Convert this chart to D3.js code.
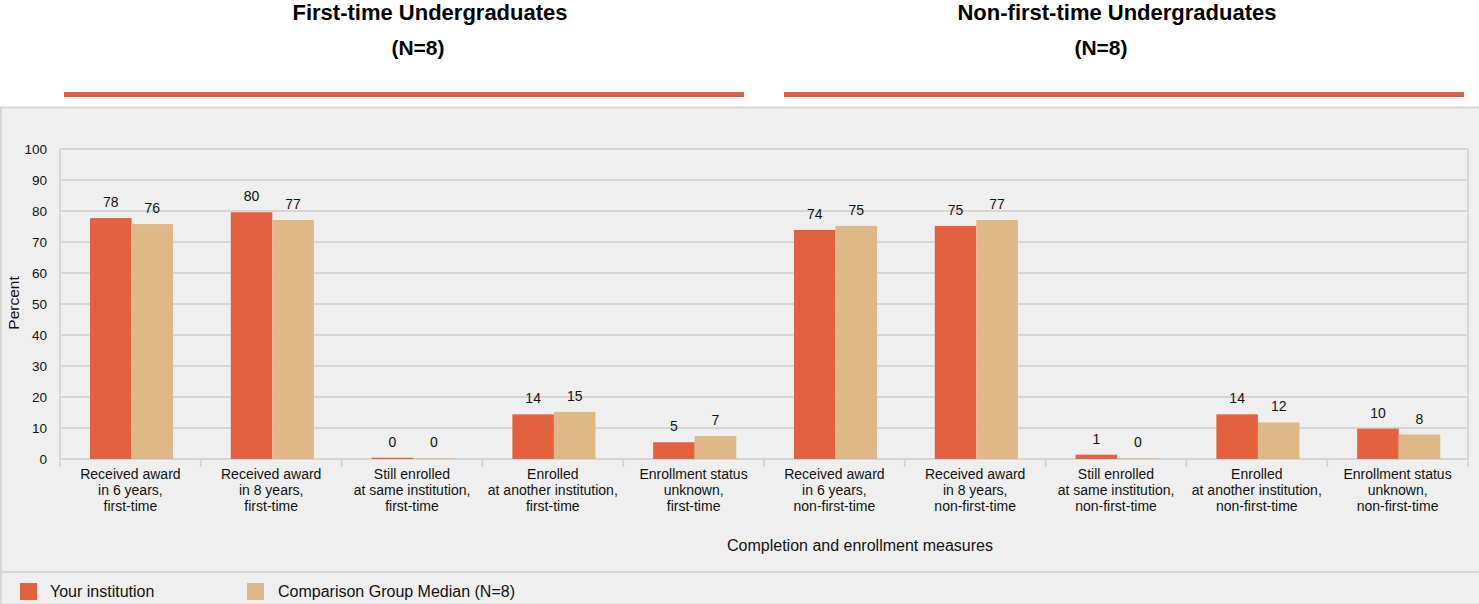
<!DOCTYPE html>
<html>
<head>
<meta charset="utf-8">
<script src="https://cdn.jsdelivr.net/npm/d3@7"></script>
<style>
  body { margin: 0; background: #fff; }
  svg { display: block; font-family: "Liberation Sans", Arial, sans-serif; }
</style>
</head>
<body>
<div id="chart"></div>
<script>
// categories (x axis), three-line labels
const categories = [
  ["Received award", "in 6 years,", "first-time"],
  ["Received award", "in 8 years,", "first-time"],
  ["Still enrolled", "at same institution,", "first-time"],
  ["Enrolled", "at another institution,", "first-time"],
  ["Enrollment status", "unknown,", "first-time"],
  ["Received award", "in 6 years,", "non-first-time"],
  ["Received award", "in 8 years,", "non-first-time"],
  ["Still enrolled", "at same institution,", "non-first-time"],
  ["Enrolled", "at another institution,", "non-first-time"],
  ["Enrollment status", "unknown,", "non-first-time"]
];
const seriesNames = ["Your institution", "Comparison Group Median (N=8)"];
const yourValues = [77.7, 79.6, 0.4, 14.4, 5.4, 73.9, 75.2, 1.4, 14.4, 9.8];
const medianValues = [75.8, 77.1, 0.3, 15.2, 7.4, 75.2, 77.1, 0.3, 11.8, 7.9];
const yTicks = [0, 10, 20, 30, 40, 50, 60, 70, 80, 90, 100];
const groupTitles = ["First-time Undergraduates", "Non-first-time Undergraduates"];
const groupSubtitles = ["(N=8)", "(N=8)"];

const colors = ["#e4613f", "#dfb887"];
const width = 1479, height = 604;
const margin = { top: 149, left: 60, bottom: 145, right: 11 };
const plotBottom = height - margin.bottom;

const svg = d3.select("#chart").append("svg")
  .attr("width", width)
  .attr("height", height);

// header titles and orange rules
const halves = [[64, 744], [784, 1464]];
const titleX = [430, 1117];
const subtitleX = [418, 1101];
halves.forEach((h, i) => {
  svg.append("text").attr("x", titleX[i]).attr("y", 20)
    .attr("text-anchor", "middle").attr("font-size", 22).attr("font-weight", "bold")
    .text(groupTitles[i]);
  svg.append("text").attr("x", subtitleX[i]).attr("y", 55)
    .attr("text-anchor", "middle").attr("font-size", 21).attr("font-weight", "bold")
    .text(groupSubtitles[i]);
  svg.append("rect").attr("x", h[0]).attr("y", 92)
    .attr("width", h[1] - h[0]).attr("height", 5).attr("fill", "#dc6242");
});

// grey panel
svg.append("rect").attr("x", 1).attr("y", 107.5)
  .attr("width", width).attr("height", height - 107)
  .attr("fill", "#efefef").attr("stroke", "#d6d6d6").attr("stroke-width", 2);
svg.append("line").attr("x1", 0).attr("x2", width).attr("y1", 572).attr("y2", 572)
  .attr("stroke", "#d6d6d6").attr("stroke-width", 2);

const x = d3.scaleBand()
  .domain(d3.range(categories.length))
  .range([margin.left, width - margin.right]);

const x1 = d3.scaleBand()
  .domain([0, 1])
  .range([x.bandwidth() * 0.213, x.bandwidth() * 0.803]);

const y = d3.scaleLinear()
  .domain([0, 100])
  .range([plotBottom, margin.top]);

let g = svg.append("g");

// grid
g.selectAll("line.grid").data(yTicks).enter().append("line")
  .attr("class", "grid")
  .attr("x1", margin.left).attr("x2", width - margin.right)
  .attr("y1", d => y(d)).attr("y2", d => y(d))
  .attr("stroke", "#d6d6d6").attr("stroke-width", 2);

// left and right frame
[margin.left, width - margin.right].forEach(xx => {
  g.append("line").attr("x1", xx).attr("x2", xx)
    .attr("y1", margin.top).attr("y2", plotBottom + 8)
    .attr("stroke", "#d6d6d6").attr("stroke-width", 2);
});

// category boundary ticks
g.selectAll("line.ctick").data(d3.range(1, categories.length)).enter().append("line")
  .attr("class", "ctick")
  .attr("x1", d => x(d)).attr("x2", d => x(d))
  .attr("y1", plotBottom).attr("y2", plotBottom + 8)
  .attr("stroke", "#d6d6d6").attr("stroke-width", 2);

// y tick labels
g.selectAll("text.ytick").data(yTicks).enter().append("text")
  .attr("class", "ytick")
  .attr("x", 47).attr("y", d => y(d) + 5)
  .attr("text-anchor", "end").attr("font-size", 13.5).attr("fill", "#111")
  .text(d => d);

// bars
const data = [];
categories.forEach((c, i) => {
  data.push({ cat: i, s: 0, v: yourValues[i] });
  data.push({ cat: i, s: 1, v: medianValues[i] });
});

const bars = g.selectAll("rect.bar").data(data);
bars.enter().append("rect")
  .attr("class", "bar")
  .attr("x", d => x(d.cat) + x1(d.s))
  .attr("y", d => y(d.v))
  .attr("width", x1.bandwidth())
  .attr("height", d => plotBottom - y(d.v))
  .style("fill", d => colors[d.s]);

// value labels
g.selectAll("text.val").data(data).enter().append("text")
  .attr("class", "val")
  .attr("x", d => x(d.cat) + x1(d.s) + x1.bandwidth() / 2)
  .attr("y", d => y(d.v) - 11)
  .attr("text-anchor", "middle").attr("font-size", 14).attr("fill", "#111")
  .text(d => Math.round(d.v));

// category labels
categories.forEach((c, i) => {
  const t = g.append("text")
    .attr("x", x(i) + x.bandwidth() / 2)
    .attr("y", 479)
    .attr("text-anchor", "middle").attr("font-size", 14).attr("fill", "#111");
  c.forEach((line, j) => {
    t.append("tspan").attr("x", x(i) + x.bandwidth() / 2)
      .attr("dy", j === 0 ? 0 : 16).text(line);
  });
});

// axis titles
svg.append("text").attr("x", 860).attr("y", 551)
  .attr("text-anchor", "middle").attr("font-size", 16).attr("fill", "#111")
  .text("Completion and enrollment measures");
svg.append("text")
  .attr("transform", "translate(19,303) rotate(-90)")
  .attr("text-anchor", "middle").attr("font-size", 15.5).attr("fill", "#111")
  .text("Percent");

// legend
const legendX = [20, 247];
seriesNames.forEach((n, i) => {
  svg.append("rect").attr("x", legendX[i]).attr("y", 583)
    .attr("width", 17).attr("height", 17).attr("fill", colors[i]);
  svg.append("text").attr("x", legendX[i] + (i === 0 ? 30 : 31)).attr("y", 597)
    .attr("font-size", 16).attr("fill", "#111").text(n);
});
</script>
</body>
</html>
